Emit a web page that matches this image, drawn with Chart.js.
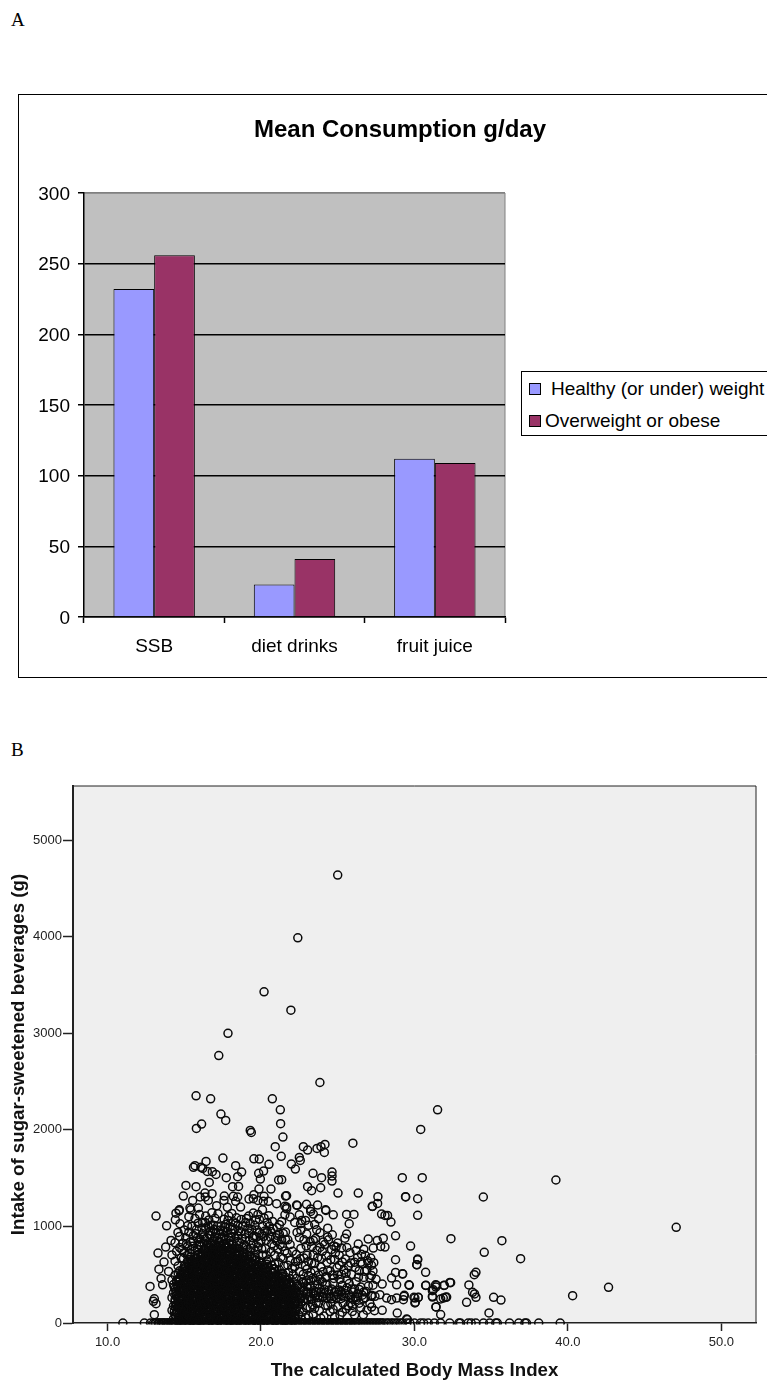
<!DOCTYPE html>
<html>
<head>
<meta charset="utf-8">
<title>Mean consumption and BMI scatter</title>
<script src="https://cdn.jsdelivr.net/npm/chart.js@4"></script>
<style>
html, body { margin: 0; padding: 0; background: #fff; overflow: hidden; }
body { width: 767px; height: 1382px; position: relative; font-family: "Liberation Sans", Arial, sans-serif; }
.panel { position: absolute; left: 11px; font: 19px "Liberation Serif", serif; color: #000; }
#frame { position: absolute; left: 18px; top: 94px; width: 800px; height: 584px; border: 1.5px solid #000; box-sizing: border-box; }
#barChart { position: absolute; left: 19px; top: 95px; }
#scatterChart { position: absolute; left: 0; top: 770px; }
#legend { position: absolute; left: 521px; top: 371px; width: 300px; height: 65px; border: 1.5px solid #000; box-sizing: border-box; background: #fff; font-size: 19px; }
.row { position: absolute; left: 0; height: 22px; line-height: 22px; white-space: nowrap; }
.swatch { position: absolute; left: 7px; top: 5px; width: 10px; height: 10px; border: 1px solid #000; }
</style>
</head>
<body>
<div class="panel" style="top:9px">A</div>
<div class="panel" style="top:739px">B</div>
<div id="frame"></div>
<canvas id="barChart" width="762" height="582"></canvas>
<div id="legend"></div>
<canvas id="scatterChart" width="767" height="612"></canvas>
<script>
// panel A
const categories = ['SSB', 'diet drinks', 'fruit juice'];
const healthyWeight = [232, 23, 112];
const overweight = [256, 41, 109];
const seriesNames = ['Healthy (or under) weight', 'Overweight or obese'];
const seriesColors = ['#9999FF', '#993366'];

// panel B
const xTickValues = [10, 20, 30, 40, 50];
const yTickValues = [0, 1000, 2000, 3000, 4000, 5000];
// BMI of the people with zero intake (the strip along the axis)
const zeroIntakeBmi = [11.0, 12.4, 12.8, 13.0, 13.1, 13.15, 13.3, 13.35, 13.4, 13.5, 13.6, 13.65, 13.7, 13.8, 13.9, 13.95, 14.0, 14.1, 14.2, 14.25, 14.3, 14.35, 14.4, 14.5, 14.6, 14.65, 14.7, 14.8, 14.9, 14.95, 15.0, 15.05, 15.1, 15.2, 15.3, 15.35, 15.4, 15.5, 15.6, 15.65, 15.7, 15.75, 15.8, 15.9, 16.0, 16.05, 16.1, 16.2, 16.3, 16.35, 16.4, 16.5, 16.6, 16.65, 16.7, 16.8, 16.9, 16.95, 17.0, 17.05, 17.1, 17.2, 17.3, 17.35, 17.4, 17.5, 17.6, 17.65, 17.7, 17.8, 17.9, 17.95, 18.0, 18.1, 18.2, 18.25, 18.3, 18.35, 18.4, 18.5, 18.6, 18.65, 18.7, 18.8, 18.9, 18.95, 19.0, 19.1, 19.2, 19.25, 19.3, 19.4, 19.5, 19.55, 19.6, 19.7, 19.8, 19.85, 19.9, 20.0, 20.1, 20.15, 20.2, 20.3, 20.4, 20.45, 20.5, 20.6, 20.7, 20.75, 20.8, 20.9, 21.0, 21.05, 21.1, 21.2, 21.3, 21.35, 21.4, 21.5, 21.6, 21.65, 21.7, 21.8, 21.9, 21.95, 22.0, 22.1, 22.2, 22.25, 22.3, 22.4, 22.5, 22.55, 22.6, 22.7, 22.8, 22.85, 22.9, 23.0, 23.1, 23.15, 23.2, 23.3, 23.4, 23.45, 23.5, 23.6, 23.7, 23.75, 23.8, 23.9, 24.0, 24.05, 24.1, 24.2, 24.3, 24.35, 24.4, 24.5, 24.6, 24.65, 24.7, 24.8, 24.9, 24.95, 25.0, 25.1, 25.2, 25.25, 25.3, 25.4, 25.5, 25.55, 25.6, 25.7, 25.8, 25.85, 25.9, 26.0, 26.1, 26.15, 26.2, 26.3, 26.4, 26.5, 26.6, 26.7, 26.8, 26.9, 27.0, 27.1, 27.2, 27.3, 27.4, 27.5, 27.6, 27.7, 27.8, 27.9, 28.0, 28.2, 28.3, 28.5, 28.6, 28.8, 28.9, 29.1, 29.2, 29.5, 29.7, 30.0, 30.4, 30.6, 30.9, 31.3, 31.7, 32.3, 32.9, 33.0, 33.5, 33.7, 34.0, 34.5, 34.9, 35.3, 35.4, 36.2, 36.8, 37.2, 37.3, 38.1, 39.5];
// the scattered points around the main cloud
const sparsePoints = [
  [25.0,4640],[22.4,3990],[20.2,3430],[21.95,3240],[17.85,3000],[17.25,2770],[23.84,2491],[15.77,2353],[16.72,2322],[20.74,2322],[21.26,2208],[31.51,2208],[17.39,2164],[17.7,2098],[21.28,2064],[16.13,2060],[15.79,2015],[30.41,2005],[19.3,1995],[19.37,1974],[21.43,1926],[25.99,1863],[24.17,1850],[23.91,1826],[22.76,1826],[20.93,1826],[23.65,1808],[23.04,1791],[24.13,1767],[21.32,1726],[22.5,1715],[17.52,1708],[19.54,1701],[19.89,1698],[22.56,1684],[16.42,1674],[21.98,1646],[20.52,1643],[15.7,1629],[18.35,1629],[15.6,1612],[16.09,1612],[16.2,1601],[22.24,1594],[20.17,1574],[16.5,1570],[16.83,1567],[18.74,1563],[24.63,1563],[19.85,1550],[23.39,1550],[17.07,1539],[24.63,1522],[18.48,1515],[17.74,1505],[23.95,1505],[29.21,1505],[30.51,1505],[19.96,1491],[21.35,1484],[21.15,1481],[39.22,1481],[24.63,1470],[16.63,1456],[15.11,1425],[15.77,1412],[18.15,1412],[23.04,1412],[18.54,1415],[23.89,1401],[20.65,1387],[19.87,1387],[23.3,1370],[16.35,1346],[16.81,1339],[25.02,1346],[26.34,1346],[19.54,1329],[14.94,1315],[17.61,1315],[21.6,1315],[21.67,1318],[18.2,1312],[20.2,1312],[29.42,1308],[27.62,1308],[16.03,1305],[16.37,1305],[18.48,1305],[34.49,1305],[29.43,1305],[19.5,1287],[30.21,1287],[19.22,1284],[15.55,1270],[16.57,1270],[17.59,1270],[19.8,1270],[18.35,1260],[20.15,1260],[20.48,1260],[27.6,1239],[21.02,1236],[22.97,1229],[23.69,1222],[22.32,1222],[22.37,1217],[17.11,1215],[27.25,1208],[21.56,1208],[27.27,1207],[21.67,1201],[18.67,1201],[17.81,1198],[15.37,1191],[15.92,1191],[23.23,1180],[21.67,1183],[14.68,1173],[24.21,1173],[15.42,1172],[24.23,1166],[14.66,1162],[23.24,1155],[14.46,1138],[27.86,1128],[23.41,1128],[25.58,1124],[26.06,1124],[24.71,1121],[21.56,1121],[22.5,1121],[30.21,1115],[28.08,1114],[28.25,1114],[13.16,1107],[23.76,1079],[14.42,1069],[22.65,1062],[21.35,1052],[28.47,1045],[14.72,1028],[22.58,1028],[25.75,1028],[13.85,1007],[15.22,1007],[47.06,991],[23.63,965],[14.59,938],[24.65,914],[25.58,921],[22.98,921],[28.77,903],[24.34,890],[25.47,879],[27.97,879],[32.38,873],[26.99,869],[14.14,855],[23.41,855],[27.58,855],[35.7,853],[24.06,838],[26.34,817],[29.75,797],[27.8,793],[13.79,786],[24.89,786],[28.08,786],[23.84,783],[27.32,776],[34.55,732],[13.29,724],[36.92,666],[30.21,663],[28.77,655],[30.21,655],[13.68,631],[30.15,604],[30.16,603],[13.35,558],[13.98,534],[28.77,524],[30.73,525],[34.01,525],[29.23,511],[29.23,507],[33.9,501],[28.51,465],[13.49,462],[32.31,420],[32.36,418],[27.9,403],[13.59,396],[28.84,396],[29.64,396],[31.38,396],[33.55,394],[30.73,389],[31.92,389],[29.67,390],[30.75,390],[31.45,390],[31.95,390],[12.77,379],[31.4,372],[42.65,370],[31.23,344],[31.17,335],[33.79,318],[33.92,301],[27.75,293],[29.34,287],[40.31,283],[27.21,276],[27.43,276],[29.32,276],[31.17,277],[31.18,269],[32.1,269],[34.01,266],[29.97,266],[30.25,266],[32.03,266],[35.16,266],[30.25,265],[30.03,258],[28.19,258],[28.84,258],[31.88,258],[13.05,251],[31.71,249],[26.67,248],[29.28,242],[28.51,241],[26.19,241],[35.64,238],[12.99,224],[33.4,214],[30.06,214],[30.03,207],[25.84,207],[13.16,200],[27.21,165],[31.4,166],[31.41,166],[27.9,131],[34.86,104],[28.88,103],[13.05,86],[31.71,87],[26.67,86],[29.49,41],[29.54,35]
];
// the dense cloud, left to right
const densePoints = [
  [14.3,42],[14.4,88],[14.2,131],[14.3,176],[14.4,219],[14.2,262],[14.3,311],[14.4,352],[14.3,398],[14.2,445],
  [14.6,25],[14.7,71],[14.5,112],[14.6,158],[14.7,203],[14.6,248],[14.5,289],[14.7,336],[14.6,381],[14.5,427],[14.7,471],[14.6,518],
  [14.9,18],[15.0,62],[14.8,104],[14.9,151],[15.0,193],[14.8,241],[14.9,283],[15.0,329],[14.8,372],[14.9,418],[15.0,463],[14.8,507],[14.9,552],[15.0,586],
  [15.2,12],[15.3,55],[15.1,99],[15.2,142],[15.3,188],[15.2,231],[15.1,278],[15.3,321],[15.2,366],[15.1,409],[15.3,454],[15.2,498],[15.1,541],[15.3,589],[15.2,637],
  [15.5,21],[15.6,66],[15.4,109],[15.5,153],[15.6,197],[15.5,244],[15.4,287],[15.6,332],[15.5,377],[15.4,421],[15.6,466],[15.5,512],[15.4,555],[15.6,601],[15.5,648],[15.4,683],
  [15.8,9],[15.9,52],[15.7,96],[15.8,139],[15.9,186],[15.7,228],[15.8,274],[15.9,318],[15.7,361],[15.8,407],[15.9,451],[15.7,496],[15.8,539],[15.9,586],[15.7,629],[15.8,672],[15.9,709],
  [16.1,17],[16.2,61],[16.0,107],[16.1,149],[16.2,194],[16.0,239],[16.1,283],[16.2,327],[16.0,373],[16.1,416],[16.2,461],[16.0,504],[16.1,551],[16.2,596],[16.0,641],[16.1,687],[16.2,728],
  [16.4,11],[16.5,57],[16.3,101],[16.4,146],[16.5,189],[16.3,234],[16.4,279],[16.5,323],[16.3,368],[16.4,412],[16.5,458],[16.3,502],[16.4,547],[16.5,591],[16.3,636],[16.4,681],[16.5,724],[16.3,767],
  [16.7,23],[16.8,67],[16.6,112],[16.7,156],[16.8,201],[16.6,246],[16.7,291],[16.8,334],[16.6,379],[16.7,424],[16.8,468],[16.6,513],[16.7,558],[16.8,603],[16.6,646],[16.7,692],[16.8,737],[16.6,781],[16.7,826],
  [17.0,14],[17.1,59],[16.9,103],[17.0,148],[17.1,193],[16.9,236],[17.0,282],[17.1,326],[16.9,371],[17.0,416],[17.1,461],[16.9,505],[17.0,549],[17.1,594],[16.9,639],[17.0,684],[17.1,729],[16.9,773],[17.0,818],
  [17.3,26],[17.4,71],[17.2,115],[17.3,159],[17.4,204],[17.2,249],[17.3,294],[17.4,338],[17.2,383],[17.3,427],[17.4,472],[17.2,517],[17.3,562],[17.4,606],[17.2,651],[17.3,696],[17.4,741],[17.2,785],[17.3,830],[17.4,872],
  [17.6,10],[17.7,54],[17.5,99],[17.6,144],[17.7,188],[17.5,233],[17.6,278],[17.7,322],[17.5,367],[17.6,412],[17.7,456],[17.5,501],[17.6,546],[17.7,590],[17.5,635],[17.6,680],[17.7,724],[17.5,769],[17.6,814],[17.7,856],
  [17.9,19],[18.0,64],[17.8,108],[17.9,153],[18.0,198],[17.8,242],[17.9,287],[18.0,332],[17.8,376],[17.9,421],[18.0,466],[17.8,510],[17.9,555],[18.0,600],[17.8,644],[17.9,689],[18.0,734],[17.8,778],[17.9,823],
  [18.2,13],[18.3,58],[18.1,102],[18.2,147],[18.3,192],[18.1,236],[18.2,281],[18.3,326],[18.1,370],[18.2,415],[18.3,460],[18.1,504],[18.2,549],[18.3,594],[18.1,638],[18.2,683],[18.3,728],[18.1,771],[18.2,812],
  [18.5,24],[18.6,69],[18.4,113],[18.5,158],[18.6,203],[18.4,247],[18.5,292],[18.6,337],[18.4,381],[18.5,426],[18.6,471],[18.4,515],[18.5,560],[18.6,605],[18.4,649],[18.5,694],[18.6,739],[18.4,778],
  [18.8,16],[18.9,61],[18.7,105],[18.8,150],[18.9,195],[18.7,239],[18.8,284],[18.9,329],[18.7,373],[18.8,418],[18.9,463],[18.7,507],[18.8,552],[18.9,597],[18.7,641],[18.8,686],[18.9,726],
  [19.1,27],[19.2,72],[19.0,116],[19.1,161],[19.2,206],[19.0,250],[19.1,295],[19.2,340],[19.0,384],[19.1,429],[19.2,474],[19.0,518],[19.1,563],[19.2,608],[19.0,652],[19.1,697],
  [19.4,11],[19.5,56],[19.3,100],[19.4,145],[19.5,190],[19.3,234],[19.4,279],[19.5,324],[19.3,368],[19.4,413],[19.5,458],[19.3,502],[19.4,547],[19.5,592],[19.3,636],[19.4,678],
  [19.7,22],[19.8,67],[19.6,111],[19.7,156],[19.8,201],[19.6,245],[19.7,290],[19.8,335],[19.6,379],[19.7,424],[19.8,469],[19.6,513],[19.7,558],[19.8,603],[19.6,647],
  [20.0,15],[20.1,60],[19.9,104],[20.0,149],[20.1,194],[19.9,238],[20.0,283],[20.1,328],[19.9,372],[20.0,417],[20.1,462],[19.9,506],[20.0,551],[20.1,596],[19.9,640],
  [20.3,26],[20.4,71],[20.2,115],[20.3,160],[20.4,205],[20.2,249],[20.3,294],[20.4,339],[20.2,383],[20.3,428],[20.4,473],[20.2,517],[20.3,562],[20.4,607],
  [20.6,12],[20.7,57],[20.5,101],[20.6,146],[20.7,191],[20.5,235],[20.6,280],[20.7,325],[20.5,369],[20.6,414],[20.7,459],[20.5,503],[20.6,548],[20.7,596],
  [20.9,23],[21.0,68],[20.8,112],[20.9,157],[21.0,202],[20.8,246],[20.9,291],[21.0,336],[20.8,380],[20.9,425],[21.0,470],[20.8,514],[20.9,559],
  [21.2,16],[21.3,61],[21.1,105],[21.2,150],[21.3,195],[21.1,239],[21.2,284],[21.3,329],[21.1,373],[21.2,418],[21.3,463],[21.1,507],[21.2,548],
  [21.5,27],[21.6,72],[21.4,116],[21.5,161],[21.6,206],[21.4,250],[21.5,295],[21.6,340],[21.4,384],[21.5,429],[21.6,474],[21.4,516],
  [21.8,14],[21.9,59],[21.7,103],[21.8,148],[21.9,193],[21.7,237],[21.8,282],[21.9,327],[21.7,371],[21.8,416],[21.9,461],
  [22.1,25],[22.2,70],[22.0,114],[22.1,159],[22.2,204],[22.0,248],[22.1,293],[22.2,338],[22.0,382],[22.1,421],
  // second pass over the black part of the cloud
  [14.45,63],[14.35,118],[14.5,181],[14.4,243],[14.45,305],[14.35,372],[14.5,441],[14.4,495],[14.75,44],[14.65,92],[14.8,139],[14.7,176],[14.75,224],[14.65,268],[14.8,312],[14.7,358],[14.75,402],[14.65,449],[14.8,493],[14.7,541],
  [15.05,37],[14.95,81],[15.1,127],[15.0,169],[15.05,216],[14.95,258],[15.1,304],[15.0,351],[15.05,396],[14.95,441],[15.1,482],[15.0,529],[15.05,571],[15.35,33],[15.25,78],[15.4,121],[15.3,166],[15.35,211],[15.25,256],[15.4,299],[15.3,344],[15.35,389],[15.25,433],[15.4,478],[15.3,523],[15.35,567],[15.25,612],[15.4,661],
  [15.65,41],[15.55,86],[15.7,129],[15.6,174],[15.65,219],[15.55,264],[15.7,307],[15.6,352],[15.65,397],[15.55,442],[15.7,486],[15.6,531],[15.65,576],[15.55,621],[15.7,664],[15.95,29],[15.85,74],[16.0,118],[15.9,163],[15.95,207],[15.85,252],[16.0,297],[15.9,341],[15.95,386],[15.85,431],[16.0,475],[15.9,520],[15.95,565],[15.85,609],[16.0,654],[15.9,698],
  [16.25,38],[16.15,83],[16.3,127],[16.2,172],[16.25,217],[16.15,261],[16.3,306],[16.2,351],[16.25,395],[16.15,440],[16.3,485],[16.2,529],[16.25,574],[16.15,619],[16.3,663],[16.2,708],[16.25,746],[16.55,33],[16.45,78],[16.6,123],[16.5,167],[16.55,212],[16.45,257],[16.6,301],[16.5,346],[16.55,391],[16.45,435],[16.6,480],[16.5,525],[16.55,569],[16.45,614],[16.6,659],[16.5,703],[16.55,748],
  [16.85,44],[16.75,89],[16.9,133],[16.8,178],[16.85,223],[16.75,267],[16.9,312],[16.8,357],[16.85,401],[16.75,446],[16.9,491],[16.8,535],[16.85,580],[16.75,625],[16.9,669],[16.8,714],[16.85,759],[16.75,803],[17.15,37],[17.05,82],[17.2,126],[17.1,171],[17.15,216],[17.05,260],[17.2,305],[17.1,350],[17.15,394],[17.05,439],[17.2,484],[17.1,528],[17.15,573],[17.05,618],[17.2,662],[17.1,707],[17.15,752],[17.05,796],
  [17.45,48],[17.35,93],[17.5,137],[17.4,182],[17.45,227],[17.35,271],[17.5,316],[17.4,361],[17.45,405],[17.35,450],[17.5,495],[17.4,539],[17.45,584],[17.35,629],[17.5,673],[17.4,718],[17.45,763],[17.35,807],[17.75,32],[17.65,77],[17.8,121],[17.7,166],[17.75,211],[17.65,255],[17.8,300],[17.7,345],[17.75,389],[17.65,434],[17.8,479],[17.7,523],[17.75,568],[17.65,613],[17.8,657],[17.7,702],[17.75,747],[17.65,791],
  [18.05,41],[17.95,86],[18.1,130],[18.0,175],[18.05,220],[17.95,264],[18.1,309],[18.0,354],[18.05,398],[17.95,443],[18.1,488],[18.0,532],[18.05,577],[17.95,622],[18.1,666],[18.0,711],[18.05,756],[18.35,35],[18.25,80],[18.4,124],[18.3,169],[18.35,214],[18.25,258],[18.4,303],[18.3,348],[18.35,392],[18.25,437],[18.4,482],[18.3,526],[18.35,571],[18.25,616],[18.4,660],[18.3,705],[18.35,749],
  [18.65,46],[18.55,91],[18.7,135],[18.6,180],[18.65,225],[18.55,269],[18.7,314],[18.6,359],[18.65,403],[18.55,448],[18.7,493],[18.6,537],[18.65,582],[18.55,627],[18.7,671],[18.6,716],[18.95,38],[18.85,83],[19.0,127],[18.9,172],[18.95,217],[18.85,261],[19.0,306],[18.9,351],[18.95,395],[18.85,440],[19.0,485],[18.9,529],[18.95,574],[18.85,619],[19.0,663],
  [19.25,49],[19.15,94],[19.3,138],[19.2,183],[19.25,228],[19.15,272],[19.3,317],[19.2,362],[19.25,406],[19.15,451],[19.3,496],[19.2,540],[19.25,585],[19.15,630],[19.55,33],[19.45,78],[19.6,122],[19.5,167],[19.55,212],[19.45,256],[19.6,301],[19.5,346],[19.55,390],[19.45,435],[19.6,480],[19.5,524],[19.55,569],[19.45,614],
  [19.85,44],[19.75,89],[19.9,133],[19.8,178],[19.85,223],[19.75,267],[19.9,312],[19.8,357],[19.85,401],[19.75,446],[19.9,491],[19.8,535],[19.85,580],[20.15,37],[20.05,82],[20.2,126],[20.1,171],[20.15,216],[20.05,260],[20.2,305],[20.1,350],[20.15,394],[20.05,439],[20.2,484],[20.1,528],[20.15,573],
  [20.45,48],[20.35,93],[20.5,137],[20.4,182],[20.45,227],[20.35,271],[20.5,316],[20.4,361],[20.45,405],[20.35,450],[20.5,495],[20.4,539],[20.75,34],[20.65,79],[20.8,123],[20.7,168],[20.75,213],[20.65,257],[20.8,302],[20.7,347],[20.75,391],[20.65,436],[20.8,481],[20.7,525],
  [21.05,45],[20.95,90],[21.1,134],[21.0,179],[21.05,224],[20.95,268],[21.1,313],[21.0,358],[21.05,402],[20.95,447],[21.1,492],[21.35,38],[21.25,83],[21.4,127],[21.3,172],[21.35,217],[21.25,261],[21.4,306],[21.3,351],[21.35,395],[21.25,440],[21.4,485],
  [21.65,49],[21.55,94],[21.7,138],[21.6,183],[21.65,228],[21.55,272],[21.7,317],[21.6,362],[21.65,406],[21.55,451],[21.95,36],[21.85,81],[22.0,125],[21.9,170],[21.95,215],[21.85,259],[22.0,304],[21.9,349],[21.95,393],[22.25,47],[22.15,92],[22.3,136],[22.2,181],[22.25,226],[22.15,270],[22.3,315],[22.2,360],[22.45,88],[22.55,142],[22.4,196],[22.6,251],[22.5,318],[22.35,402],
  // third pass, rows across the black part
  [14.62,52],[14.97,38],[15.33,67],[15.68,29],[16.02,58],[16.37,44],[16.73,72],[17.08,31],[17.42,63],[17.77,47],[18.13,24],[18.48,69],[18.83,36],[19.17,54],[19.53,28],[19.88,66],[20.22,41],[20.57,73],[20.93,33],[21.27,59],[21.62,22],[21.97,64],
  [14.53,97],[14.88,122],[15.23,84],[15.58,116],[15.92,91],[16.27,128],[16.63,86],[16.98,119],[17.33,103],[17.67,132],[18.03,94],[18.37,117],[18.72,81],[19.07,126],[19.43,98],[19.77,113],[20.13,87],[20.47,124],[20.83,102],[21.17,93],[21.53,129],[21.87,108],[22.23,118],
  [14.42,168],[14.77,143],[15.13,176],[15.47,138],[15.83,163],[16.17,184],[16.52,147],[16.88,172],[17.22,136],[17.57,168],[17.92,191],[18.28,151],[18.62,174],[18.97,139],[19.33,166],[19.67,187],[20.03,144],[20.37,171],[20.72,153],[21.08,186],[21.43,141],[21.78,169],[22.12,179],
  [14.58,214],[14.93,238],[15.27,206],[15.62,231],[15.98,221],[16.33,197],[16.68,236],[17.03,211],[17.37,243],[17.72,204],[18.07,229],[18.42,212],[18.78,241],[19.12,198],[19.48,226],[19.83,239],[20.17,207],[20.53,234],[20.87,218],[21.23,244],[21.58,203],[21.93,233],[22.27,212],
  [14.47,277],[14.82,259],[15.17,293],[15.53,268],[15.88,286],[16.22,254],[16.58,279],[16.93,296],[17.27,263],[17.63,288],[17.98,271],[18.32,252],[18.68,291],[19.03,274],[19.37,258],[19.72,283],[20.08,297],[20.42,262],[20.77,279],[21.13,289],[21.47,256],[21.82,276],[22.17,294],
  [14.63,328],[14.98,346],[15.33,312],[15.67,339],[16.03,322],[16.38,349],[16.72,316],[17.07,337],[17.43,308],[17.78,331],[18.12,352],[18.47,319],[18.83,343],[19.17,306],[19.52,334],[19.88,311],[20.23,347],[20.57,326],[20.92,341],[21.28,313],[21.62,339],[21.97,321],
  [14.52,391],[14.87,369],[15.22,402],[15.57,376],[15.93,394],[16.28,364],[16.62,388],[16.97,405],[17.33,372],[17.67,397],[18.02,381],[18.38,363],[18.72,401],[19.08,384],[19.42,368],[19.78,392],[20.12,407],[20.48,371],[20.82,389],[21.18,398],[21.52,366],[21.87,411],
  [14.68,448],[15.03,422],[15.38,459],[15.73,437],[16.07,452],[16.42,426],[16.78,461],[17.12,439],[17.47,418],[17.83,454],[18.17,431],[18.53,463],[18.87,424],[19.23,447],[19.57,458],[19.93,429],[20.27,452],[20.62,436],[20.98,464],[21.33,423],[21.68,448],
  [15.12,512],[15.47,488],[15.82,516],[16.18,483],[16.52,509],[16.88,477],[17.22,503],[17.58,521],[17.93,486],[18.27,512],[18.63,478],[18.98,507],[19.32,519],[19.68,484],[20.03,511],[20.37,493],[20.73,522],[21.07,487],[21.42,508],
  [15.23,556],[15.58,578],[15.93,543],[16.27,562],[16.63,584],[16.97,548],[17.32,572],[17.68,553],[18.03,587],[18.37,546],[18.73,569],[19.07,583],[19.42,551],[19.78,574],[20.13,548],[20.47,586],[20.82,562],
  [15.47,624],[15.83,641],[16.17,612],[16.53,633],[16.87,651],[17.23,618],[17.57,644],[17.93,627],[18.27,653],[18.62,615],[18.97,638],[19.33,622],[19.67,648],[20.02,619],[20.37,641],
  [16.12,702],[16.47,682],[16.83,711],[17.17,688],[17.52,717],[17.88,696],[18.22,673],[18.57,708],[18.93,684],[19.27,702],[19.63,678],
  [16.42,778],[16.78,754],[17.13,781],[17.48,762],[17.82,788],[18.17,751],[18.52,772],[17.27,842],[17.62,826],[17.98,851],[16.93,812],
  // upper fringe of the cloud
  [14.6,590],[14.4,640],[14.8,672],[14.2,705],[14.5,742],[15.0,728],[14.7,781],[15.2,790],[14.9,826],[14.4,830],[15.4,842],[15.1,878],[14.7,897],[15.6,905],[15.3,941],[15.0,962],[15.8,968],[15.5,1003],[15.9,1034],[16.1,789],[16.3,828],[16.0,872],[16.5,884],[16.2,925],[16.7,951],[16.4,981],[16.9,1012],[16.2,1041],[16.6,1067],[17.0,1085],[16.4,1108],[16.8,1142],[17.2,1131],[15.7,1082],[15.3,1101],[16.0,1125],
  [15.2,700],[15.45,760],[15.7,750],[15.95,810],[15.6,850],[15.85,880],[16.35,870],[16.75,905],[17.05,930],[16.55,1005],[16.95,968],[15.15,820],[14.85,760],[15.75,925],[16.15,985],[16.85,850],[17.15,875],[17.55,945],[18.05,892],[18.45,845],
  [17.0,886],[17.3,918],[17.6,903],[17.9,886],[17.5,962],[17.8,947],[18.1,930],[18.3,875],[17.4,1004],[17.7,1021],[18.0,998],[18.3,971],[18.6,838],[18.5,902],[18.8,781],[18.7,944],[17.6,1074],[17.9,1108],[18.2,1048],[18.5,1013],[18.8,1002],[18.4,1089],[18.7,1072],[19.0,1041],[18.1,1135],[18.9,812],[19.1,762],[19.0,884],[19.3,738],[19.2,932],[19.5,826],[19.4,972],[19.6,698],[19.8,789],[19.7,887],[19.9,934],[19.3,1032],[19.6,1012],[19.9,1071],[19.2,1108],[19.5,1139],[19.8,1124],[20.1,703],[20.0,851],[20.3,768],[20.2,898],[20.5,654],[20.4,951],[20.1,1002],[20.4,1042],[20.7,821],[20.6,891],[20.2,1088],[20.5,1112],[20.1,1172],[20.9,702],[20.8,978],[20.9,612],[21.1,764],[21.0,851],[21.3,681],[21.2,921],[21.5,591],[21.4,792],[21.7,722],[21.6,864],[21.2,1018],[21.8,524],[21.9,651],[21.6,942],[21.9,812],
  [19.05,790],[19.35,775],[19.65,742],[19.25,850],[19.55,902],[19.85,828],[20.05,768],[20.35,705],[20.65,738],[20.25,952],[20.85,795],[21.15,625],[21.45,668],[21.75,598],[22.05,565],[22.25,632],[21.55,745],[21.05,908],[20.55,1002],[21.35,862],
  [14.95,668],[15.35,722],[15.55,795],[15.85,762],[16.05,838],[16.25,892],[16.55,815],[16.65,912],[16.35,1042],[16.75,1012],[17.15,1002],[17.35,962],[17.65,988],[17.85,1062],[18.15,972],[18.35,1032],[18.55,955],[18.75,872],[18.95,922],[19.15,982],[19.45,882],[19.75,962],[19.05,1082],[19.65,1068],[20.05,918],[20.35,858],[20.65,948],[20.95,882],[20.75,1052],[21.05,988],[21.25,812],[21.45,928],[21.75,862],[22.05,742],
  // right wing, 22 to 27
  [22.1,502],[22.3,461],[22.2,585],[22.4,381],[22.3,712],[22.5,298],[22.4,642],[22.6,202],[22.5,531],[22.6,772],[22.7,112],[22.7,422],[22.8,862],[22.8,338],[22.9,592],[22.9,58],[23.0,248],[23.0,702],[23.1,491],[23.2,161],[23.2,379],[23.3,618],[23.3,792],[23.4,92],[23.4,302],[23.5,541],[23.6,209],[23.6,441],[23.7,679],[23.8,128],[23.8,359],[23.9,581],[24.0,742],[24.0,268],[24.1,72],[24.2,468],[24.2,182],[24.3,627],[24.4,338],[24.5,538],[24.5,118],[24.6,762],[24.6,251],[24.7,413],[24.8,658],[24.8,61],[24.9,322],[25.0,172],[25.0,498],[25.1,599],[25.1,702],[25.2,252],[25.3,391],[25.3,112],[25.4,548],[25.5,662],[25.5,302],[25.6,448],[25.7,178],[25.7,592],[25.8,728],[25.9,352],[25.9,502],[26.0,245],[26.1,628],[26.1,82],[26.2,428],[26.3,681],[26.3,302],[26.4,542],[26.5,158],[26.5,372],[26.6,611],[26.7,472],[26.8,698],[26.8,262],[26.9,548],[27.0,382],[27.0,622],[27.1,201],[27.1,468],[27.2,288],[27.3,538],[27.3,392],[27.4,128],[27.5,452],[26.2,752],[25.6,782],[25.0,828],[24.4,861],[22.6,961],[23.1,1012],[22.2,1042],[22.9,1062],[21.9,1098],[23.5,1021],
  [22.55,262],[22.7,285],[22.85,255],[23.05,322],[23.15,272],[23.3,248],[23.45,335],[23.55,281],[23.7,262],[23.9,318],[24.05,278],[24.15,345],[24.3,262],[24.45,301],[24.6,352],[24.75,275],[24.9,262],[25.1,342],[25.25,298],[25.4,268],[25.6,365],[25.75,292],[26.0,322],[26.15,268],[26.4,348],[26.6,288],[26.85,325],[22.6,365],[22.8,408],[23.0,375],[23.25,435],[23.5,392],[23.7,402],[24.0,425],[24.3,395],[22.75,505],[23.0,558],[23.25,522],[23.5,615],[23.75,498],[24.05,532],[24.35,545],[24.65,498],[24.95,572],[25.25,505],[25.55,515],[25.85,622],[26.15,575],[26.5,628],[26.75,535],[22.55,665],[22.8,672],[23.1,638],[23.4,705],[23.65,752],[23.95,668],[24.25,695],[24.55,655],[24.85,725],[25.3,632],[26.55,712],[26.95,645],[27.2,598],[27.2,492],[22.65,38],[23.1,72],[23.5,152],[23.9,48],[24.35,178],[24.7,142],[25.15,82],[25.55,145],[25.95,118],[26.4,205],[26.9,132],[22.95,158],[23.35,188],[23.75,205],[24.55,202],[25.35,205],[25.95,182],[23.2,842],[22.5,885],[22.95,798],[22.35,938],
  [22.45,218],[22.75,228],[22.95,302],[23.25,312],[23.6,318],[23.85,265],[24.1,305],[24.5,268],[24.8,322],[25.0,292],[25.2,328],[25.5,338],[25.85,268],[26.1,352],[26.3,268],[26.7,322],[22.65,452],[22.95,438],[23.4,468],[23.85,452],[24.25,482],[24.75,462],[25.15,452],[25.75,408],[26.35,475],[27.35,625],[27.15,672],[26.7,765],[23.55,875],[24.15,812],[24.75,798],[23.85,935],[24.35,982],[25.25,778]
];
const yAxisMax = 5562;

// paints the plot background and the thin edges, and recentres the title on the canvas
const plotFrame = {
  id: 'plotFrame',
  afterLayout(chart) {
    if (chart.titleBlock) {
      chart.titleBlock.left = 0;
      chart.titleBlock.right = chart.width;
    }
  },
  beforeDraw(chart, args, opts) {
    const a = chart.chartArea, c = chart.ctx;
    c.save();
    c.fillStyle = opts.fill;
    c.fillRect(a.left, a.top, a.right - a.left, a.bottom - a.top);
    c.strokeStyle = opts.edge;
    c.lineWidth = opts.edgeWidth;
    c.beginPath();
    c.moveTo(a.left, a.top);
    c.lineTo(a.right, a.top);
    c.lineTo(a.right, a.bottom);
    c.stroke();
    c.restore();
  }
};
Chart.register(plotFrame);
Chart.defaults.font.family = '"Liberation Sans", Arial, sans-serif';
Chart.defaults.animation = false;

new Chart(document.getElementById('barChart'), {
  type: 'bar',
  data: {
    labels: categories,
    datasets: [
      { label: seriesNames[0], data: healthyWeight, backgroundColor: seriesColors[0], borderColor: '#000', borderWidth: 1 },
      { label: seriesNames[1], data: overweight, backgroundColor: seriesColors[1], borderColor: '#000', borderWidth: 1 }
    ]
  },
  options: {
    responsive: false,
    layout: { padding: { right: 276, top: 0, left: 0, bottom: 0 } },
    datasets: { bar: { barPercentage: 1, categoryPercentage: 0.58 } },
    plugins: {
      legend: { display: false },
      tooltip: { enabled: false },
      title: { display: true, text: 'Mean Consumption g/day', color: '#000', font: { size: 24, weight: 'bold' }, padding: { top: 20.6, bottom: 48.6 } },
      plotFrame: { fill: '#C0C0C0', edge: '#808080', edgeWidth: 1 }
    },
    scales: {
      x: {
        offset: true,
        afterFit: s => { s.height = 60; },
        grid: { offset: true, drawOnChartArea: false, drawTicks: true, tickLength: 6, tickColor: '#000', tickWidth: 1.5 },
        border: { color: '#000', width: 1.5 },
        ticks: { color: '#000', font: { size: 19 }, padding: 12, maxRotation: 0 }
      },
      y: {
        min: 0,
        max: 300,
        afterFit: s => { s.width = 65; },
        grid: { color: c => (c.tick && c.tick.value === 300 ? '#808080' : '#000'), tickColor: '#000', lineWidth: 1.5, tickLength: 6 },
        border: { color: '#000', width: 1.5 },
        ticks: { stepSize: 50, color: '#000', font: { size: 19 }, padding: 8, labelOffset: 1.5 }
      }
    }
  }
});

// legend sits half outside the window like in the source figure
const legendBox = document.getElementById('legend');
seriesNames.forEach((name, i) => {
  const row = document.createElement('div');
  row.className = 'row';
  row.style.top = (i === 0 ? 6 : 38) + 'px';
  row.style.paddingLeft = (i === 0 ? 29 : 23) + 'px';
  row.textContent = name;
  const swatch = document.createElement('span');
  swatch.className = 'swatch';
  swatch.style.background = seriesColors[i];
  row.appendChild(swatch);
  legendBox.appendChild(row);
});

const zeroPoints = zeroIntakeBmi.map(b => ({ x: b, y: 0 }));
const toXY = p => ({ x: p[0], y: p[1] });

new Chart(document.getElementById('scatterChart'), {
  type: 'scatter',
  data: {
    datasets: [{
      label: 'Intake of sugar-sweetened beverages (g)',
      data: zeroPoints.concat(densePoints.map(toXY), sparsePoints.map(toXY)),
      backgroundColor: 'rgba(0,0,0,0)',
      borderColor: '#0a0a0a',
      borderWidth: 1.5,
      pointRadius: 4,
      clip: { left: 0, top: 0, right: 0, bottom: 1.5 }
    }]
  },
  options: {
    responsive: false,
    layout: { padding: { top: 16, right: 11, left: 0, bottom: 0 } },
    plugins: {
      legend: { display: false },
      tooltip: { enabled: false },
      plotFrame: { fill: '#EFEFEF', edge: '#222', edgeWidth: 1 }
    },
    scales: {
      x: {
        type: 'linear',
        min: 7.75,
        max: 52.26,
        afterFit: s => { s.height = 59; },
        afterBuildTicks: s => { s.ticks = xTickValues.map(v => ({ value: v })); },
        title: { display: true, text: 'The calculated Body Mass Index', color: '#111', font: { size: 18.7, weight: 'bold' }, padding: { top: 3, bottom: 0 } },
        grid: { drawOnChartArea: false, tickLength: 8, tickColor: '#222', tickWidth: 1.5 },
        border: { color: '#222', width: 1.5 },
        ticks: { color: '#222', font: { size: 13 }, padding: 3.5, maxRotation: 0, callback: v => v.toFixed(1) }
      },
      y: {
        min: 0,
        max: yAxisMax,
        afterFit: s => { s.width = 73; },
        afterBuildTicks: s => { s.ticks = yTickValues.map(v => ({ value: v })); },
        title: { display: true, text: 'Intake of sugar-sweetened beverages (g)', color: '#111', font: { size: 18.7, weight: 'bold' }, padding: { top: 8, bottom: 0 } },
        grid: { drawOnChartArea: false, tickLength: 10, tickColor: '#222', tickWidth: 1.5 },
        border: { color: '#222', width: 2 },
        ticks: { color: '#222', font: { size: 13 }, padding: 1, callback: v => String(v) }
      }
    }
  }
});
</script>
</body>
</html>
